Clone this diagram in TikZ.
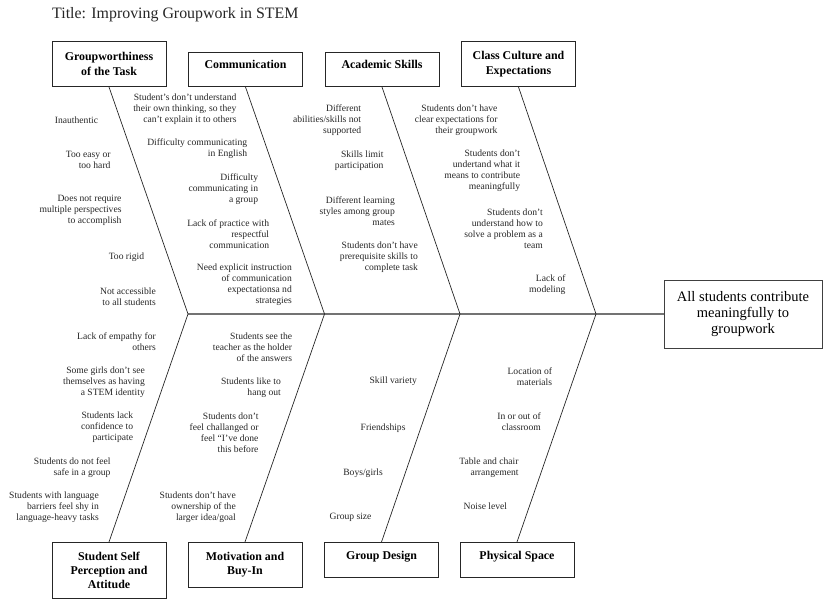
\documentclass[tikz,border=0pt]{standalone}
\usepackage{fontspec}
\setmainfont{Liberation Serif}
\definecolor{spineGray}{RGB}{115,115,115}

\begin{document}
\begin{tikzpicture}[x=1pt, y=-1pt,
        cause/.style={rectangle, draw=black!85, line width=0.9pt, fill=white, minimum width=114pt, align=center, inner sep=2pt, font=\bfseries\fontsize{11.9}{14.3}\selectfont},
        effect/.style={rectangle, draw=black!75, line width=0.9pt, fill=white, minimum width=158pt, minimum height=68pt, align=center, font=\fontsize{14.5}{16.3}\selectfont},
        reason/.style={anchor=east, align=right, inner sep=0pt, text=black!85, font=\fontsize{9.6}{11}\selectfont},
        bone/.style={draw=black!85, line width=0.7pt},
        spine/.style={draw=spineGray, line width=1.4pt}
    ]
    \useasboundingbox (0,0) rectangle (826,599);
    \node[anchor=west, inner sep=0pt, text=black!85, font=\fontsize{15.9}{18}\selectfont] (title) at (52,15) {Title: Improving Groupwork in STEM};

    \node[cause, minimum height=45pt, anchor=south] (worth) at (109,87) {Groupworthiness\\of the Task};
    \node[cause, minimum height=34pt, text depth=11pt, anchor=south] (comm) at (245.5,87) {Communication};
    \node[cause, minimum height=34pt, text depth=11pt, anchor=south] (acad) at (382,87) {Academic Skills};
    \node[cause, minimum height=45pt, anchor=south] (culture) at (518.5,87) {Class Culture and\\Expectations};
    \node[cause, minimum height=56pt, anchor=north] (self) at (109,542) {Student Self\\Perception and\\Attitude};
    \node[cause, minimum height=45pt, anchor=north] (motiv) at (245,542) {Motivation and\\Buy-In};
    \node[cause, minimum height=35pt, text depth=10pt, anchor=north] (design) at (381.5,542) {Group Design};
    \node[cause, minimum height=35pt, text depth=10pt, anchor=north] (space) at (517,542) {Physical Space};
    \node[effect] (goal) at (743,314) {All students contribute\\meaningfully to\\groupwork};

    \coordinate (j1) at (188,314);
    \coordinate (j2) at (324.5,314);
    \coordinate (j3) at (460,314);
    \coordinate (j4) at (596,314);
    \draw[spine] (j1) -- (goal.west);
    \draw[bone] (worth.south) -- (j1) -- (self.north);
    \draw[bone] (comm.south) -- (j2) -- (motiv.north);
    \draw[bone] (acad.south) -- (j3) -- (design.north);
    \draw[bone] (culture.south) -- (j4) -- (space.north);

    \node[reason] (inauth) at (98.3,120) {Inauthentic};
    \node[reason] (easyhard) at (110.7,160.3) {Too easy or\\too hard};
    \node[reason] (perspect) at (121.7,210.7) {Does not require\\multiple perspectives\\to accomplish};
    \node[reason] (rigid) at (144.3,257.3) {Too rigid};
    \node[reason] (access) at (156,296.5) {Not accessible\\to all students};

    \node[reason] (ownthink) at (236.7,109) {Student’s don’t understand\\their own thinking, so they\\can’t explain it to others};
    \node[reason] (english) at (247.3,148.5) {Difficulty communicating\\in English};
    \node[reason] (ingroup) at (258.3,188.7) {Difficulty\\communicating in\\a group};
    \node[reason] (practice) at (269.3,234) {Lack of practice with\\respectful\\communication};
    \node[reason] (explicit) at (292,285) {Need explicit instruction\\of communication\\expectationsa nd\\strategies};

    \node[reason] (abilities) at (361.3,120) {Different\\abilities/skills not\\supported};
    \node[reason] (limit) at (383.7,160.2) {Skills limit\\participation};
    \node[reason] (styles) at (395,211) {Different learning\\styles among group\\mates};
    \node[reason] (prereq) at (418,256.7) {Students don’t have\\prerequisite skills to\\complete task};

    \node[reason] (clear) at (497.7,120) {Students don’t have\\clear expectations for\\their groupwork};
    \node[reason] (meaning) at (520.3,171.2) {Students don’t\\undertand what it\\means to contribute\\meaningfully};
    \node[reason] (team) at (543,228.3) {Students don’t\\understand how to\\solve a problem as a\\team};
    \node[reason] (modeling) at (565.7,285) {Lack of\\modeling};

    \node[reason] (empathy) at (156,341.5) {Lack of empathy for\\others};
    \node[reason] (identity) at (145,382) {Some girls don’t see\\themselves as having\\a STEM identity};
    \node[reason] (confid) at (133.3,427.3) {Students lack\\confidence to\\participate};
    \node[reason] (safe) at (110.7,467.7) {Students do not feel\\safe in a group};
    \node[reason] (shy) at (99,507) {Students with language\\barriers feel shy in\\language-heavy tasks};

    \node[reason] (holder) at (292.3,347.7) {Students see the\\teacher as the holder\\of the answers};
    \node[reason] (hangout) at (281,387.3) {Students like to\\hang out};
    \node[reason] (challenge) at (258.7,433) {Students don’t\\feel challanged or\\feel “I’ve done\\this before};
    \node[reason] (owner) at (236,507) {Students don’t have\\ownership of the\\larger idea/goal};

    \node[reason] (variety) at (417,381.7) {Skill variety};
    \node[reason] (friends) at (405.7,427.7) {Friendships};
    \node[reason] (boysgirls) at (383,472.7) {Boys/girls};
    \node[reason] (size) at (371.7,517.7) {Group size};

    \node[reason] (location) at (552.3,376.2) {Location of\\materials};
    \node[reason] (inout) at (541,421.2) {In or out of\\classroom};
    \node[reason] (tables) at (518.7,467.2) {Table and chair\\arrangement};
    \node[reason] (noise) at (507.3,506.7) {Noise level};
\end{tikzpicture}
\end{document}
